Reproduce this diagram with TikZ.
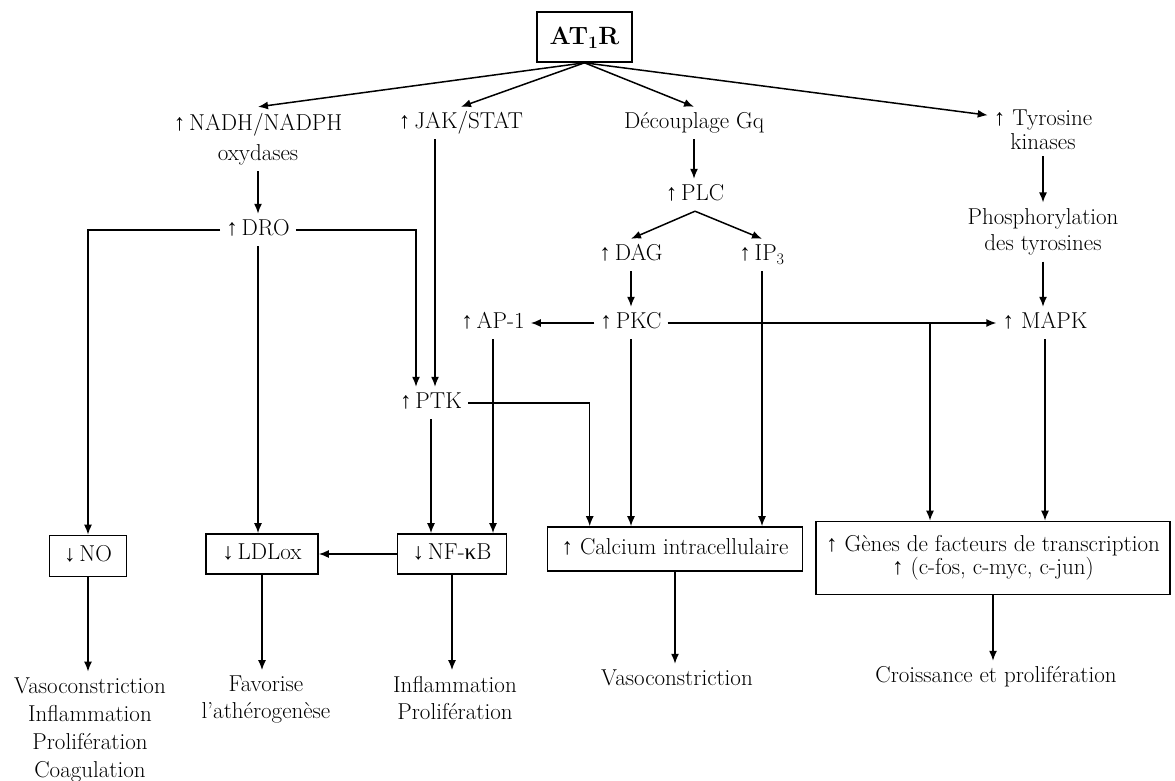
\documentclass[tikz,border=0pt]{standalone}
\usepackage{fontspec}
\newfontfamily\arrowfont{Liberation Serif}
\newcommand{\up}{{\arrowfont ↑}}
\newcommand{\down}{{\arrowfont ↓}}
\usetikzlibrary{arrows.meta, positioning}

\begin{document}
\begin{tikzpicture}[
        x=1pt, y=-1pt,
        lbl/.style={font=\fontsize{23}{27}\selectfont, inner sep=6pt, text height=15.5pt, text depth=4.5pt},
        mlbl/.style={font=\fontsize{23}{27}\selectfont, inner sep=6pt, align=center},
        arrow/.style={-{Latex[length=10pt,width=8pt]}, line width=1.5pt}
    ]

    \tikzset{
    box/.style={lbl, draw, line width=1.6pt},
    mbox/.style={mlbl, draw, line width=1.6pt}
}

    \useasboundingbox (0,0) rectangle (1175,781);

    % receptor
    \node[box, minimum width=95pt, minimum height=50pt, font=\fontsize{25}{28}\selectfont\bfseries, text height=17pt, text depth=2pt] (at1r) at (584.5,37) {AT\textsubscript{1}R};

    % first level
    \node[mlbl, font=\fontsize{23}{30}\selectfont] (nadh) at (258,139) {\up\,NADH/NADPH\\oxydases};
    \node[lbl] (jak) at (461,123) {\up\,JAK/STAT};
    \node[lbl] (gq) at (694,123) {Découplage Gq};
    \node[mlbl, font=\fontsize{23}{24}\selectfont] (tyr) at (1043,130) {\up{} Tyrosine\\kinases};

    \node[lbl] (plc) at (695,195) {\up\,PLC};
    \node[lbl] (dag) at (631,255) {\up\,DAG};
    \node[lbl] (ip3) at (762,255) {\up\,IP\textsubscript{3}};
    \node[lbl] (pkc) at (631,323) {\up\,PKC};
    \node[lbl] (ap1) at (493,323) {\up\,AP-1};
    \node[mlbl, font=\fontsize{23}{26}\selectfont] (phos) at (1043,232) {Phosphorylation\\des tyrosines};
    \node[lbl] (mapk) at (1045,323) {\up{} MAPK};
    \node[lbl] (dro) at (258,230) {\up\,DRO};
    \node[lbl] (ptk) at (431,403) {\up\,PTK};

    % boxes
    \node[box, minimum width=77pt, minimum height=41pt] (no) at (88,556) {\down\,NO};
    \node[box, minimum width=112pt, minimum height=40pt] (ldl) at (262,554) {\down\,LDLox};
    \node[box, minimum width=109pt, minimum height=40pt] (nfkb) at (452,554) {\down\,NF-{\arrowfont κ}B};
    \node[box, minimum width=255pt, minimum height=44pt] (cal) at (675,549) {\up{} Calcium intracellulaire};
    \node[mbox, font=\fontsize{23}{23}\selectfont, minimum width=354pt, minimum height=73pt] (genes) at (993,558) {\up{} Gènes de facteurs de transcription\\\up{} (c-fos, c-myc, c-jun)};

    % effects
    \node[mlbl, font=\fontsize{23}{28}\selectfont] (r1) at (90,730) {Vasoconstriction\\Inflammation\\Prolifération\\Coagulation};
    \node[mlbl] (r2) at (266,700) {Favorise\\l’athérogenèse};
    \node[mlbl] (r3) at (455,698) {Inflammation\\Prolifération};
    \node[lbl] (r4) at (677,680) {Vasoconstriction};
    \node[lbl] (r5) at (996,677) {Croissance et prolifération};

    \coordinate (split) at (930,323);

    \draw[arrow] (at1r.south) -- (nadh.north);
    \draw[arrow] (at1r.south) -- (jak.north);
    \draw[arrow] (at1r.south) -- (gq.north);
    \draw[arrow] (at1r.south) -- (tyr.165);

    \draw[arrow] (nadh.south) -- (dro.north);
    \draw[arrow] (dro.west) -| (no.north);
    \draw[arrow] (dro.south) -- (dro.south |- ldl.north);
    \draw[arrow] (dro.east) -| ([xshift=-15pt]ptk.north);
    \draw[arrow] ([xshift=-26pt]jak.south) -- ([xshift=-26pt]jak.south |- ptk.north);

    \draw[arrow] (gq.south) -- (gq.south |- plc.north);
    \draw[arrow] (plc.south) -- (dag.north);
    \draw[arrow] (plc.south) -- (ip3.north);
    \draw[arrow] (dag.south) -- (pkc.north);
    \draw[arrow] (pkc.west) -- (ap1.east);
    \draw[arrow] (pkc.east) -- (mapk.west);
    \draw[arrow] (split) -- (split |- genes.north);
    \draw[arrow] (ip3.south) -- (ip3.south |- cal.north);
    \draw[arrow] (pkc.south) -- (pkc.south |- cal.north);

    \draw[arrow] (ptk.east) -| ([xshift=43pt]cal.north west);
    \draw[arrow] (ptk.south) -- (ptk.south |- nfkb.north);
    \draw[arrow] (ap1.south) -- (ap1.south |- nfkb.north);
    \draw[arrow] (nfkb.west) -- (ldl.east);

    \draw[arrow] (tyr.south) -- (tyr.south |- phos.north);
    \draw[arrow] (phos.south) -- (phos.south |- mapk.north);
    \draw[arrow] (mapk.south) -- (mapk.south |- genes.north);

    \draw[arrow] (no.south) -- (no.south |- r1.north);
    \draw[arrow] (ldl.south) -- (ldl.south |- r2.north);
    \draw[arrow] (nfkb.south) -- (nfkb.south |- r3.north);
    \draw[arrow] (cal.south) -- (cal.south |- r4.north);
    \draw[arrow] (genes.south) -- (genes.south |- r5.north);
    \end{tikzpicture}
\end{document}
